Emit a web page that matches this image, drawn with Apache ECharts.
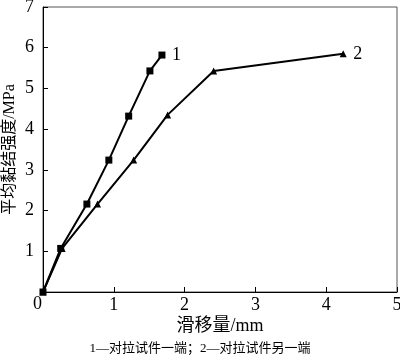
<!DOCTYPE html>
<html><head><meta charset="utf-8">
<script src="https://cdn.jsdelivr.net/npm/echarts@6/dist/echarts.min.js"></script>
<style>html,body{margin:0;padding:0;background:#fff}#c{width:400px;height:360px}</style>
</head><body><div id="c"></div>
<script>
const series1X = [0, 0.25, 0.62, 0.93, 1.21, 1.51, 1.68];
const series1Y = [0, 1.07, 2.16, 3.24, 4.32, 5.43, 5.82];
const series2X = [0, 0.27, 0.77, 1.28, 1.76, 2.41, 4.24];
const series2Y = [0, 1.07, 2.16, 3.24, 4.35, 5.43, 5.85];
const seriesNames = ['1', '2'];
const xTicks = [0, 1, 2, 3, 4, 5];
const yTicks = [0, 1, 2, 3, 4, 5, 6, 7];
const xName = '滑移量/mm';
const yName = '平均黏结强度/MPa';
const caption = '1—对拉试件一端；2—对拉试件另一端';

const serif = '"Liberation Serif","Noto Sans CJK SC",serif';
const chart = echarts.init(document.getElementById('c'), null, {renderer: 'canvas'});
function pairs(xs, ys) { return xs.map((x, i) => [x, ys[i]]); }
const d1 = pairs(series1X, series1Y);
const d2 = pairs(series2X, series2Y);
function endLabel(name) {
  return {show: true, position: 'right', formatter: name, color: '#000', fontFamily: serif, fontSize: 18, offset: [2, 0]};
}
chart.setOption({
  animation: false,
  grid: {left: 43, right: 3, top: 7, bottom: 68, containLabel: false, outerBoundsMode: 'none',
         show: true, borderColor: '#555', borderWidth: 1},
  xAxis: {
    type: 'value', min: xTicks[0], max: xTicks[xTicks.length - 1], interval: 1,
    name: xName, nameLocation: 'middle', nameGap: 25, nameMoveOverlap: false,
    nameTextStyle: {color: '#000', fontFamily: serif, fontSize: 18},
    axisLine: {lineStyle: {color: '#000', width: 1}},
    axisTick: {inside: true, length: 5, lineStyle: {color: '#000'}},
    axisLabel: {color: '#000', fontFamily: serif, fontSize: 18, margin: 4,
      formatter: v => v === 0 ? '' : String(v)},
    splitLine: {show: false}
  },
  yAxis: {
    type: 'value', min: yTicks[0], max: yTicks[yTicks.length - 1], interval: 1,
    name: yName, nameLocation: 'middle', nameGap: 25, nameMoveOverlap: false,
    nameTextStyle: {color: '#000', fontFamily: serif, fontSize: 16},
    axisLine: {lineStyle: {color: '#000', width: 1}},
    axisTick: {inside: true, length: 5, lineStyle: {color: '#000'}},
    axisLabel: {color: '#000', fontFamily: serif, fontSize: 18, margin: 9,
      formatter: v => v === 0 ? '' : String(v)},
    splitLine: {show: false}
  },
  graphic: [
    {type: 'text', left: 33, top: 295, style: {text: '0', fill: '#000', font: '18px ' + serif}},
    {type: 'text', left: 'center', top: 342, style: {text: caption, fill: '#000', font: '13px ' + serif}}
  ],
  series: [
    {name: seriesNames[0], type: 'line', data: d1, symbol: 'rect', symbolSize: 7,
     lineStyle: {color: '#000', width: 2}, itemStyle: {color: '#000'},
     endLabel: endLabel(seriesNames[0])},
    {name: seriesNames[1], type: 'line', data: d2, symbol: 'triangle', symbolSize: 7,
     lineStyle: {color: '#000', width: 2}, itemStyle: {color: '#000'},
     endLabel: endLabel(seriesNames[1])}
  ]
});
</script></body></html>
